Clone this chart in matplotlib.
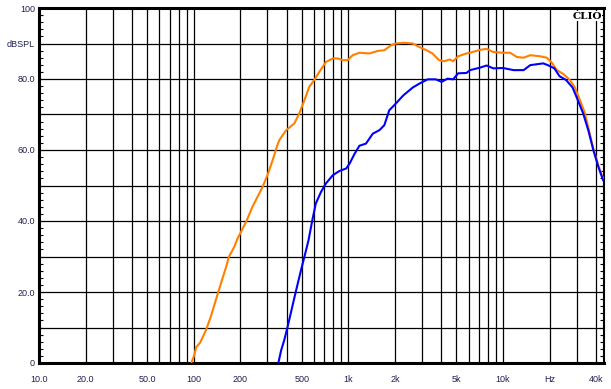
import matplotlib
matplotlib.use("Agg")
import matplotlib.pyplot as plt
from matplotlib.ticker import FixedLocator, NullFormatter

# Data (frequency in Hz, level in dBSPL)
orange_freq = [97, 100, 104, 110, 120, 129, 139, 150, 162, 169, 183, 192, 218, 240,
               279, 300, 324, 345, 358, 397, 448, 482, 520, 559, 602, 649, 717, 794,
               855, 921, 990, 1067, 1180, 1370, 1550, 1710, 1890, 2030, 2300, 2610,
               2880, 3170, 3500, 3860, 4170, 4520, 4760, 5130, 5810, 6130, 7100, 7840,
               8660, 10000, 11100, 12300, 13600, 15000, 17400, 19200, 20500, 22300,
               24600, 27100, 29200, 31300, 33800, 36000, 38400, 41400, 44400]
orange_db = [0.3, 1.7, 4.5, 5.7, 9.2, 13.0, 17.7, 22.4, 27.0, 29.9, 32.7, 35.0, 39.7, 44.0,
             49.6, 52.9, 57.1, 60.9, 62.8, 65.6, 67.5, 70.3, 74.0, 77.8, 79.7, 82.0, 84.8, 85.8,
             85.8, 85.3, 85.3, 86.7, 87.4, 87.2, 87.9, 88.1, 89.5, 90.0, 90.2, 90.0,
             89.0, 88.2, 87.2, 85.3, 85.0, 85.5, 85.0, 86.4, 87.2, 87.4, 88.2, 88.5,
             87.6, 87.4, 87.4, 86.2, 86.0, 86.7, 86.4, 86.0, 84.8, 82.5,
             81.4, 79.7, 77.6, 74.3, 70.5, 65.5, 60.3, 55.6, 52.0]

blue_freq = [354, 368, 385, 405, 427, 457, 494, 520, 553, 585, 616, 666, 717, 794,
             877, 970, 1020, 1100, 1180, 1300, 1440, 1590, 1710, 1840, 1980, 2270,
             2610, 2880, 3260, 3670, 4010, 4380, 4760, 5130, 5810, 6130, 7100, 7840,
             8660, 10000, 11700, 13600, 15000, 18200, 19500, 21500, 23200, 25600,
             28200, 30500, 33000, 35600, 38400, 41400, 44400]
blue_db = [0.3, 3.6, 6.4, 10.2, 14.5, 20.0, 26.1, 29.9, 34.6, 40.2, 44.9, 48.2, 50.6, 52.9,
           54.1, 54.8, 56.2, 59.0, 61.2, 61.8, 64.6, 65.6, 67.0, 71.2, 72.6, 75.4,
           77.6, 78.7, 79.9, 79.9, 79.2, 80.1, 79.9, 81.6, 81.7, 82.5, 83.2, 83.8,
           83.0, 83.1, 82.5, 82.5, 83.9, 84.4, 83.9, 83.0, 80.8, 79.7,
           77.6, 74.0, 70.3, 65.6, 60.0, 55.2, 51.5]

x_grid = [10, 20, 30, 40, 50, 60, 70, 80, 90,
          100, 200, 300, 400, 500, 600, 700, 800, 900,
          1000, 2000, 3000, 4000, 5000, 6000, 7000, 8000, 9000,
          10000, 20000, 30000, 40000]
x_labels = {10: '10.0', 20: '20.0', 50: '50.0', 100: '100', 200: '200', 500: '500',
            1000: '1k', 2000: '2k', 5000: '5k', 10000: '10k', 20000: 'Hz', 40000: '40k'}
y_grid = [0, 10, 20, 30, 40, 50, 60, 70, 80, 90, 100]
y_labels = {0: '0', 20: '20.0', 40: '40.0', 60: '60.0', 80: '80.0', 90: 'dBSPL', 100: '100'}

plt.rcParams['font.family'] = ['Liberation Sans', 'DejaVu Sans']
label_color = '#202050'

fig = plt.figure(figsize=(6.11, 3.89), dpi=100)
ax = fig.add_axes([39 / 611, 1 - 363 / 389, 565 / 611, 355 / 389])

ax.plot(orange_freq, orange_db, color='#ff8000', lw=1.5, zorder=3)
ax.plot(blue_freq, blue_db, color='#0000ff', lw=1.5, zorder=4)

ax.set_xscale('log')
ax.set_xlim(10, 45000)
ax.set_ylim(0, 100)

ax.xaxis.set_major_locator(FixedLocator(x_grid))
ax.xaxis.set_minor_locator(FixedLocator([]))
ax.xaxis.set_minor_formatter(NullFormatter())
ax.set_xticklabels([x_labels.get(v, '') for v in x_grid])
ax.yaxis.set_major_locator(FixedLocator(y_grid))
ax.set_yticklabels([y_labels.get(v, '') for v in y_grid])
ax.yaxis.set_minor_locator(FixedLocator(list(range(0, 101, 2))))

ax.grid(True, which='major', color='black', lw=0.9)
ax.tick_params(axis='x', which='both', length=0, pad=9, labelsize=6.5, labelcolor=label_color)
ax.tick_params(axis='y', which='both', direction='in', length=3, width=0.8,
               left=True, right=True, pad=3, labelsize=6.5, labelcolor=label_color)

for name, sp in ax.spines.items():
    sp.set_linewidth(2.2 if name != 'right' else 1.5)
    sp.set_color('black')

ax.text(0.996, 0.99, 'CLIO', transform=ax.transAxes, ha='right', va='top',
        fontsize=7.5, fontweight='bold', family='DejaVu Serif', color='black', zorder=5,
        bbox=dict(facecolor='white', edgecolor='none', pad=0.5))

fig.savefig('out.png', dpi=100)
